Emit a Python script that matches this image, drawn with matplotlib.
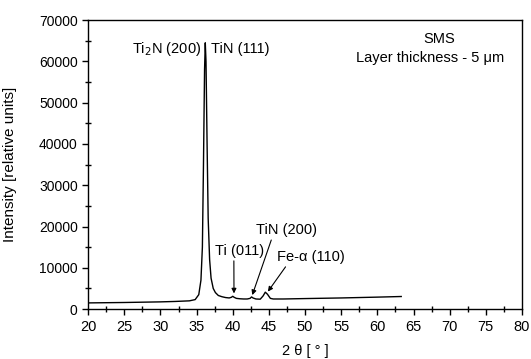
import matplotlib
matplotlib.use('Agg')
import matplotlib.pyplot as plt
from matplotlib.ticker import MultipleLocator

plt.rcParams['font.family'] = ['Liberation Sans', 'DejaVu Sans']
plt.rcParams['font.size'] = 10.5

# diffraction pattern (2 theta in degrees, intensity)
two_theta = [20, 25, 30, 32, 34, 34.8, 35.3, 35.6, 35.8, 35.95, 36.1, 36.2, 36.3,
             36.45, 36.6, 36.8, 37.0, 37.3, 37.6, 38.0, 38.5, 39.0, 39.5, 39.8,
             40.0, 40.2, 40.5, 41, 41.5, 42, 42.4, 42.6, 42.8, 43.2, 43.8, 44.2,
             44.5, 44.8, 45.2, 45.6, 47, 50, 55, 60, 63.3]
intensity = [1500, 1600, 1750, 1850, 2000, 2300, 3500, 7000, 15000, 35000, 58000,
             64500, 60000, 40000, 22000, 12000, 7500, 5000, 4000, 3300, 3000, 2800,
             2700, 2850, 3100, 2850, 2600, 2500, 2450, 2450, 2600, 2950, 2700, 2450,
             2400, 3200, 4100, 3600, 2600, 2450, 2450, 2550, 2700, 2900, 3050]

fig = plt.figure(figsize=(5.31, 3.59), dpi=100)
ax = fig.add_axes([0.166, 0.139, 0.817, 0.805])
ax.plot(two_theta, intensity, color='black', lw=1.0)

ax.set_xlim(20, 80)
ax.set_ylim(0, 70000)
ax.xaxis.set_major_locator(MultipleLocator(5))
ax.xaxis.set_minor_locator(MultipleLocator(2.5))
ax.yaxis.set_major_locator(MultipleLocator(10000))
ax.yaxis.set_minor_locator(MultipleLocator(5000))
ax.tick_params(which='major', direction='out', length=4, width=1)
ax.tick_params(which='minor', direction='inout', length=4, width=1)
ax.tick_params(axis='x', labelsize=10.5)
ax.tick_params(axis='y', labelsize=10)
for s in ax.spines.values():
    s.set_linewidth(1)

ax.set_xlabel('2 θ [ ° ]', fontsize=10.5)
ax.set_ylabel('Intensity [relative units]', fontsize=11)
ax.xaxis.set_label_coords(0.5, -0.121)
ax.yaxis.set_label_coords(-0.164, 0.5)

ax.text(35.6, 63000, 'Ti$_2$N (200)', ha='right', va='center')
ax.text(37.0, 63000, 'TiN (111)', ha='left', va='center')
ax.text(68.5, 65400, 'SMS', ha='center', va='center')
ax.text(67.3, 60800, 'Layer thickness - 5 μm', ha='center', va='center')

arrow = dict(arrowstyle='-|>', color='black', lw=0.8, mutation_scale=7,
             shrinkA=0, shrinkB=0)
ax.annotate('Ti (011)', xy=(40.17, 3800), xytext=(40.9, 14050), ha='center', va='center',
            arrowprops=dict(arrow, relpos=(0.39, 0)))
ax.annotate('TiN (200)', xy=(42.7, 3400), xytext=(47.4, 19100), ha='center', va='center',
            arrowprops=dict(arrow, relpos=(0.27, 0)))
ax.annotate('Fe-α (110)', xy=(44.86, 4240), xytext=(50.76, 12600), ha='center', va='center',
            arrowprops=dict(arrow, relpos=(0.16, 0)))

fig.savefig('out.png', dpi=100)
